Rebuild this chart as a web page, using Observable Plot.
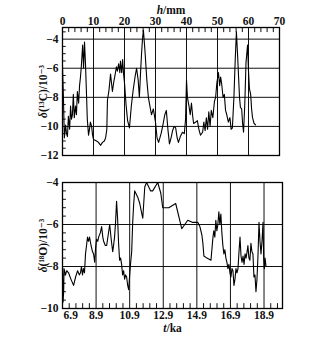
<!DOCTYPE html>
<html>
<head>
<meta charset="utf-8">
<script src="https://cdn.jsdelivr.net/npm/d3@7"></script>
<script src="https://cdn.jsdelivr.net/npm/@observablehq/plot@0.6"></script>
<style>
  html, body { margin: 0; padding: 0; background: #fff; }
  #wrap { position: relative; width: 314px; height: 343px; overflow: hidden; }
  #top, #bot { position: absolute; left: 0; }
  #top { top: 0; }
  #bot { top: 165px; }
</style>
</head>
<body>
<div id="wrap"><div id="top"></div><div id="bot"></div></div>
<script>
// ---- Top panel: delta 13C vs depth h (mm)
const hDepth = [0,0.3,0.6,1.0,1.3,1.6,1.9,2.3,2.6,2.9,3.2,3.5,3.8,4.2,4.5,4.8,5.2,5.5,5.8,6.1,6.5,6.8,7.1,7.4,7.7,8.0,8.4,8.7,9.0,9.4,9.7,10.0,11.0,11.6,12.3,12.9,13.5,13.9,14.3,14.5,15.0,15.5,16.1,16.5,17.0,17.4,17.7,18.1,18.5,18.7,19.1,19.4,19.7,20.0,20.5,21.0,21.6,22.2,22.8,23.4,23.9,24.4,24.8,25.2,25.5,25.8,26.1,26.6,27.2,27.7,28.2,28.7,29.3,30.0,30.5,31.0,31.8,32.3,33.0,33.5,34.0,34.5,35.0,35.5,36.0,36.5,37.0,37.4,38.0,38.7,39.3,39.7,40.0,40.3,40.8,41.2,41.6,42.0,42.3,43.0,43.5,44.0,44.5,45.2,45.6,46.0,46.4,46.8,47.2,47.6,48.0,48.5,49.0,49.4,49.8,50.3,50.7,51.0,51.3,51.8,52.2,52.6,53.0,53.5,54.0,54.4,54.8,55.3,55.7,56.1,56.5,56.8,57.1,57.4,57.8,58.1,58.4,58.8,59.2,59.7,60.0,60.3,60.7,61.0,61.3,61.8,62.3];
const d13C = [-5.9,-8.0,-10.8,-9.9,-10.5,-10.7,-9.3,-10.2,-8.6,-9.5,-9.2,-7.8,-9.4,-8.6,-9.2,-7.6,-8.4,-7.2,-6.6,-5.8,-4.4,-6.0,-4.2,-5.6,-7.5,-9.5,-10.6,-10.2,-9.7,-10.0,-10.6,-10.9,-11.0,-11.1,-11.3,-11.1,-11.0,-10.8,-10.2,-8.2,-7.5,-6.4,-7.6,-7.0,-6.4,-5.9,-6.2,-5.7,-6.3,-5.5,-6.3,-5.4,-6.4,-7.0,-8.5,-9.6,-10.1,-8.6,-7.5,-6.6,-6.0,-6.8,-8.0,-6.2,-5.0,-4.0,-3.4,-4.8,-6.8,-8.0,-8.6,-9.2,-8.8,-9.7,-10.8,-11.1,-10.5,-10.0,-9.2,-8.9,-10.2,-11.2,-10.8,-10.3,-10.0,-10.1,-10.8,-11.1,-10.7,-10.4,-10.5,-9.5,-6.8,-8.0,-8.6,-9.2,-8.4,-9.3,-9.8,-9.7,-9.6,-10.2,-10.6,-10.4,-9.7,-10.3,-9.4,-10.2,-9.0,-10.0,-8.9,-9.4,-8.3,-8.0,-7.0,-6.3,-7.2,-6.6,-7.0,-8.0,-7.8,-8.9,-9.2,-9.7,-9.4,-10.2,-10.1,-8.0,-5.5,-3.5,-5.2,-6.6,-8.0,-8.7,-8.8,-9.8,-10.4,-8.5,-5.6,-4.4,-6.2,-7.4,-7.8,-8.8,-9.4,-9.8,-9.9];
const hTicks = [0,10,20,30,40,50,60,70];
const hGrid = [10,20,30,40,50,60];
const hMinor = [2,4,6,8,12,14,16,18,22,24,26,28,32,34,36,38,42,44,46,48,52,54,56,58,62,64,66,68];
const cTicks = [-4,-6,-8,-10,-12];
const cGrid = [-4,-6,-8,-10];
const cMinor = [-11.5,-11,-10.5,-9.5,-9,-8.5,-7.5,-7,-6.5,-5.5,-5,-4.5,-3.5];

// ---- Bottom panel: delta 18O vs age t (ka)
const tAge = [6.90,6.93,6.97,6.99,7.08,7.15,7.26,7.40,7.56,7.68,7.80,7.90,7.97,8.03,8.09,8.15,8.21,8.27,8.33,8.39,8.45,8.51,8.60,8.69,8.75,8.82,8.87,8.93,9.00,9.05,9.15,9.23,9.30,9.35,9.45,9.53,9.62,9.71,9.80,9.89,9.94,10.00,10.06,10.12,10.18,10.24,10.30,10.36,10.42,10.48,10.54,10.60,10.66,10.72,10.78,10.84,10.90,10.96,11.02,11.08,11.14,11.20,11.38,11.50,11.60,11.68,11.80,11.91,12.15,12.27,12.57,12.75,12.87,13.23,13.64,14.00,14.36,14.66,14.96,15.08,15.20,15.26,15.32,15.50,15.74,15.86,15.91,15.97,16.03,16.09,16.15,16.21,16.27,16.33,16.39,16.45,16.51,16.57,16.63,16.69,16.75,16.81,16.87,16.93,16.99,17.05,17.11,17.17,17.23,17.29,17.35,17.41,17.47,17.53,17.59,17.65,17.71,17.77,17.83,17.89,17.94,18.00,18.06,18.12,18.18,18.24,18.30,18.36,18.42,18.48,18.54,18.60,18.66,18.72,18.78,18.84,18.88,18.92,18.96,19.02];
const d18O = [-8.0,-9.7,-9.2,-8.1,-8.4,-8.2,-8.3,-8.6,-8.9,-8.5,-8.2,-8.4,-8.3,-8.0,-8.4,-8.1,-8.3,-7.4,-7.0,-6.6,-6.8,-6.6,-7.0,-7.3,-7.4,-7.8,-7.1,-6.7,-6.8,-6.6,-6.4,-6.1,-6.6,-6.8,-7.0,-7.0,-6.5,-6.0,-6.7,-7.3,-7.0,-6.6,-5.9,-4.9,-5.7,-6.9,-7.7,-7.6,-7.9,-8.4,-8.2,-8.6,-8.4,-8.5,-8.9,-9.1,-8.4,-7.8,-7.3,-5.9,-5.0,-4.4,-4.7,-5.0,-5.4,-5.7,-4.2,-4.0,-4.4,-4.4,-4.0,-4.5,-5.2,-5.2,-5.0,-6.2,-5.8,-5.9,-5.9,-6.1,-6.5,-6.9,-7.5,-7.6,-7.7,-6.6,-6.3,-6.6,-5.8,-6.3,-6.0,-5.4,-6.0,-5.5,-6.4,-7.0,-7.4,-7.2,-7.6,-7.8,-8.1,-7.9,-8.3,-8.5,-8.1,-8.2,-8.9,-8.6,-8.1,-8.3,-8.1,-7.3,-6.6,-7.5,-7.8,-7.5,-7.9,-7.4,-7.6,-7.3,-7.0,-7.6,-7.7,-6.9,-7.3,-7.4,-8.5,-8.4,-9.2,-8.6,-7.5,-5.9,-6.8,-7.4,-6.8,-5.9,-7.6,-8.1,-7.6,-8.0];
const tTicks = [8.9,10.9,12.9,14.9,16.9,18.9];
const tMinor = [7.3,7.7,8.1,8.5,9.3,9.7,10.1,10.5,11.3,11.7,12.1,12.5,13.3,13.7,14.1,14.5,15.3,15.7,16.1,16.5,17.3,17.7,18.1,18.5,19.3,19.7];
const oTicks = [-4,-6,-8,-10];
const oGrid = [-6,-8];
const oMinor = [-9.6,-9.2,-8.8,-8.4,-7.6,-7.2,-6.8,-6.4,-5.6,-5.2,-4.8,-4.4];

const topData = hDepth.map((h, i) => ({h, v: d13C[i]}));
const botData = tAge.map((t, i) => ({t, v: d18O[i]}));

const font = {fontFamily: "'Liberation Serif', 'DejaVu Serif', serif", fontSize: "11.5px", fontWeight: "bold", background: "transparent", color: "#111"};
const intFmt = d => String(d).replace("-", "−");

const topPlot = Plot.plot({
  width: 314, height: 165,
  marginTop: 27, marginBottom: 10, marginLeft: 62, marginRight: 35,
  x: {domain: [0, 70]},
  y: {domain: [-12, -3.2]},
  style: font,
  marks: [
    Plot.ruleX(hGrid, {stroke: "#111", strokeWidth: 1}),
    Plot.ruleY(cGrid, {stroke: "#111", strokeWidth: 1}),
    Plot.ruleX(hMinor, {y1: -3.2, y2: -3.55, stroke: "#111"}),
    Plot.ruleY(cMinor, {x1: 0, x2: 1.2, stroke: "#111"}),
    Plot.line(topData, {x: "h", y: "v", stroke: "#000", strokeWidth: 1.1}),
    Plot.frame({stroke: "#000", strokeWidth: 1.3}),
    Plot.axisX({anchor: "top", ticks: hTicks, tickSize: 0, tickPadding: 3, tickFormat: intFmt, label: "h/mm", labelAnchor: "center", labelArrow: "none", labelOffset: 22}),
    Plot.axisY({ticks: cTicks, tickSize: 0, tickPadding: 4, tickFormat: intFmt, label: "δ(¹³C)/10⁻³", labelAnchor: "center", labelArrow: "none", labelOffset: 24})
  ]
});

const botPlot = Plot.plot({
  width: 314, height: 178,
  marginTop: 17, marginBottom: 35, marginLeft: 62, marginRight: 32,
  x: {domain: [6.9, 20.0]},
  y: {domain: [-10, -4]},
  style: font,
  marks: [
    Plot.ruleX(tTicks, {stroke: "#111", strokeWidth: 1}),
    Plot.ruleY(oGrid, {stroke: "#111", strokeWidth: 1}),
    Plot.ruleX(tMinor, {y1: -10, y2: -9.77, stroke: "#111"}),
    Plot.ruleY(oMinor, {x1: 6.9, x2: 7.13, stroke: "#111"}),
    Plot.line(botData, {x: "t", y: "v", stroke: "#000", strokeWidth: 1.1}),
    Plot.frame({stroke: "#000", strokeWidth: 1.3}),
    Plot.axisX({ticks: tTicks, tickSize: 0, tickPadding: 2, tickFormat: d => d.toFixed(1), label: "t/ka", labelAnchor: "center", labelArrow: "none", labelOffset: 23}),
    Plot.text([6.9], {x: d => d, y: -10, text: d => d.toFixed(1), dy: 2, dx: 1, textAnchor: "start", lineAnchor: "top"}),
    Plot.axisY({ticks: oTicks, tickSize: 0, tickPadding: 4, tickFormat: intFmt, label: "δ(¹⁸O)/10⁻³", labelAnchor: "center", labelArrow: "none", labelOffset: 24})
  ]
});

document.getElementById("top").appendChild(topPlot);
document.getElementById("bot").appendChild(botPlot);

// italicize variable symbols in the axis labels
const italics = {"h/mm": ["h", "/mm"], "t/ka": ["t", "/ka"], "δ(¹³C)/10⁻³": ["δ", "(¹³C)/10⁻³"], "δ(¹⁸O)/10⁻³": ["δ", "(¹⁸O)/10⁻³"]};
d3.selectAll("svg text").each(function() {
  const el = d3.select(this);
  const txt = el.text();
  if (italics[txt]) {
    const [a, b] = italics[txt];
    el.text(null);
    el.append("tspan").attr("font-style", "italic").text(a);
    el.append("tspan").text(b);
  }
});
</script>
</body>
</html>
